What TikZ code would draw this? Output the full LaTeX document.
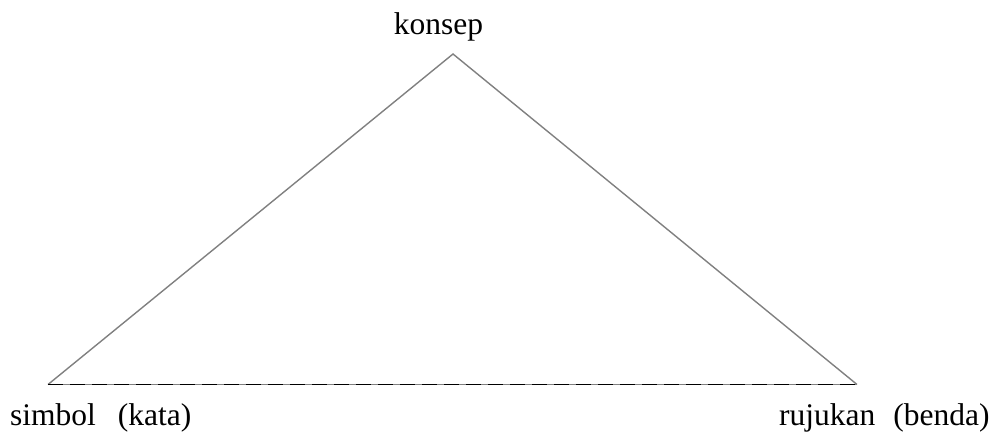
\documentclass[tikz,border=0pt]{standalone}
\usepackage{fontspec}
\setmainfont{Liberation Serif}
\begin{document}
\begin{tikzpicture}[x=1pt,y=1pt,
  edge/.style={draw=gray, line width=1.4pt},
  dashtop/.style={draw=black, line width=1.4pt, dash pattern=on 15pt off 7pt},
  lbl/.style={inner sep=0pt, font=\fontsize{31.5}{36}\selectfont}]
\useasboundingbox (0,0) rectangle (993,437);
\coordinate (A) at (453,383);
\coordinate (L) at (48,52.5);
\coordinate (R) at (857,52.5);
\draw[edge] (L) -- (A) -- (R);
\draw[edge] (L) -- (R);
\draw[dashtop] (L) -- (R);
\node[lbl, anchor=base] (konsep) at (438.5,402) {konsep};
\node[lbl, anchor=base west] (simbol) at (10,12) {simbol\hspace{22pt}(kata)};
\node[lbl, anchor=base west] (rujukan) at (779,12) {rujukan\hspace{18pt}(benda)};
\end{tikzpicture}
\end{document}
